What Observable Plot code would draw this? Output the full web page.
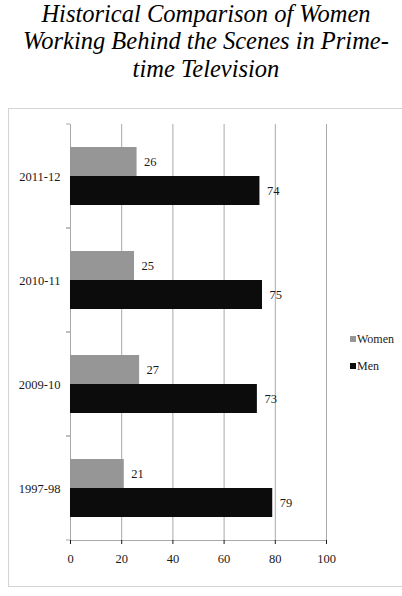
<!DOCTYPE html>
<html><head><meta charset="utf-8">
<script src="https://cdn.jsdelivr.net/npm/d3@7"></script>
<script src="https://cdn.jsdelivr.net/npm/@observablehq/plot@0.6"></script>
<style>
body{margin:0;background:#fff;width:402px;height:596px;position:relative;overflow:hidden;font-family:"Liberation Serif",serif;}
#title{position:absolute;left:0;top:0px;width:412px;text-align:center;font-family:"Liberation Serif";font-style:italic;font-size:24.5px;line-height:27.3px;color:#000;}
#frame{position:absolute;left:8px;top:108px;width:420px;height:477px;border:1px solid #d4d4d4;}
#chart{position:absolute;left:0;top:100px;}
#legend{position:absolute;left:350px;top:326px;font-size:12px;color:#1a1a1a;line-height:27px}
#legend .sw{display:inline-block;width:6px;height:6px;margin-right:1px;vertical-align:1px}
#chart svg line{stroke:#a9a9a9}
</style></head>
<body>
<div id="title">Historical Comparison of Women<br>Working Behind the Scenes in Prime-<br>time Television</div>
<div id="frame"></div>
<div id="chart"></div>
<div id="legend"></div>
<script>
const years = ["2011-12","2010-11","2009-10","1997-98"];
const series = ["Women","Men"];
const women = [26,25,27,21];
const men = [74,75,73,79];
const xTicks = [0,20,40,60,80,100];
const colors = ["#969696","#0c0c0c"];

const rows = years.flatMap((year,i)=>[
  {year, series:"Women", value:women[i]},
  {year, series:"Men", value:men[i]}
]);

const chart = Plot.plot({
  width: 402, height: 496,
  marginTop: 24, marginBottom: 56, marginLeft: 70, marginRight: 76,
  style: {fontFamily: "Liberation Serif", fontSize: "12.5px", color: "#1a1a1a", background: "transparent"},
  facet: {data: rows, y: "year", label: null},
  fy: {domain: years, padding: 0, axis: "left", tickSize: 0, tickPadding: 10, label: null},
  y: {domain: series, axis: null, paddingInner: 0, paddingOuter: 0.78},
  x: {domain: [0,100], ticks: xTicks, tickSize: 4, tickPadding: 10, label: null, line: true},
  color: {domain: series, range: colors},
  marks: [
    Plot.ruleX(xTicks, {stroke: "#a9a9a9"}),
    Plot.rect([0], {x1: 0, x2: 0, insetLeft: -4, fill: "none", stroke: "#a9a9a9", strokeDasharray: "4 104"}),
    Plot.barX(rows, {x: "value", y: "series", fill: "series"}),
    Plot.text(rows, {x: "value", y: "series", text: d => String(d.value), dx: 7, textAnchor: "start", fontSize: 12.5, fill: "#1a1a1a"})
  ]
});
document.getElementById("chart").appendChild(chart);

const legend = document.getElementById("legend");
series.forEach((s,i)=>{
  const row = document.createElement("div");
  const sw = document.createElement("span");
  sw.className = "sw"; sw.style.background = colors[i];
  row.appendChild(sw);
  row.appendChild(document.createTextNode(s));
  legend.appendChild(row);
});
</script>
</body></html>
